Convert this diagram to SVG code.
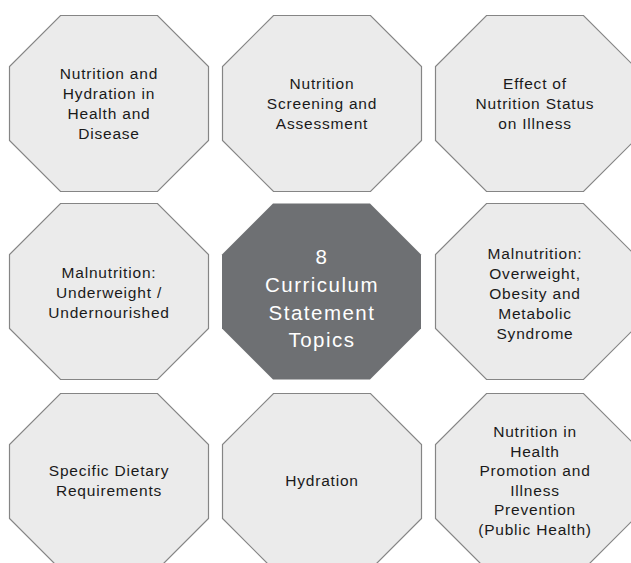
<svg xmlns="http://www.w3.org/2000/svg" xmlns:xlink="http://www.w3.org/1999/xlink" width="631" height="563" viewBox="0 0 631 563">
<style>
.o{fill:#ebebeb;stroke:#858585;stroke-width:1.2}
.c{fill:#6e7073;stroke:none}
.t{font-family:"Liberation Sans",Arial,sans-serif;font-size:15.5px;letter-spacing:0.8px;fill:#1a1a1a;text-anchor:middle}
.w{font-family:"Liberation Sans",Arial,sans-serif;font-size:20.5px;letter-spacing:1.5px;fill:#ffffff;text-anchor:middle}
</style>
<defs>
<polygon id="oct" points="51,0 148,0 199,51 199,125 148,176 51,176 0,125 0,51"/>
</defs>
<rect width="631" height="563" fill="#ffffff"/>
<g id="connectors"></g>
<g id="n1">
<use xlink:href="#oct" href="#oct" class="o" transform="translate(9.5,15.5)"/>
<text class="t"><tspan x="109" y="79">Nutrition and</tspan><tspan x="109" y="99">Hydration in</tspan><tspan x="109" y="119">Health and</tspan><tspan x="109" y="139">Disease</tspan></text>
</g>
<g id="n2">
<use xlink:href="#oct" href="#oct" class="o" transform="translate(222.5,15.5)"/>
<text class="t"><tspan x="322" y="89">Nutrition</tspan><tspan x="322" y="109">Screening and</tspan><tspan x="322" y="129">Assessment</tspan></text>
</g>
<g id="n3">
<use xlink:href="#oct" href="#oct" class="o" transform="translate(435.5,15.5)"/>
<text class="t"><tspan x="535" y="89">Effect of</tspan><tspan x="535" y="109">Nutrition Status</tspan><tspan x="535" y="129">on Illness</tspan></text>
</g>
<g id="n4">
<use xlink:href="#oct" href="#oct" class="o" transform="translate(9.5,203.5)"/>
<text class="t"><tspan x="109" y="278">Malnutrition:</tspan><tspan x="109" y="298">Underweight /</tspan><tspan x="109" y="318">Undernourished</tspan></text>
</g>
<g id="center">
<use xlink:href="#oct" href="#oct" class="c" transform="translate(222,203.5)"/>
<text class="w"><tspan x="322" y="264">8</tspan><tspan x="322" y="292">Curriculum</tspan><tspan x="322" y="320">Statement</tspan><tspan x="322" y="347">Topics</tspan></text>
</g>
<g id="n5">
<use xlink:href="#oct" href="#oct" class="o" transform="translate(435.5,203.5)"/>
<text class="t"><tspan x="535" y="259">Malnutrition:</tspan><tspan x="535" y="279">Overweight,</tspan><tspan x="535" y="299">Obesity and</tspan><tspan x="535" y="319">Metabolic</tspan><tspan x="535" y="339">Syndrome</tspan></text>
</g>
<g id="n6">
<use xlink:href="#oct" href="#oct" class="o" transform="translate(9.5,393.5)"/>
<text class="t"><tspan x="109" y="476">Specific Dietary</tspan><tspan x="109" y="496">Requirements</tspan></text>
</g>
<g id="n7">
<use xlink:href="#oct" href="#oct" class="o" transform="translate(222.5,393.5)"/>
<text class="t"><tspan x="322" y="486">Hydration</tspan></text>
</g>
<g id="n8">
<use xlink:href="#oct" href="#oct" class="o" transform="translate(435.5,393.5)"/>
<text class="t"><tspan x="535" y="437">Nutrition in</tspan><tspan x="535" y="457">Health</tspan><tspan x="535" y="476">Promotion and</tspan><tspan x="535" y="496">Illness</tspan><tspan x="535" y="515">Prevention</tspan><tspan x="535" y="535">(Public Health)</tspan></text>
</g>
</svg>
